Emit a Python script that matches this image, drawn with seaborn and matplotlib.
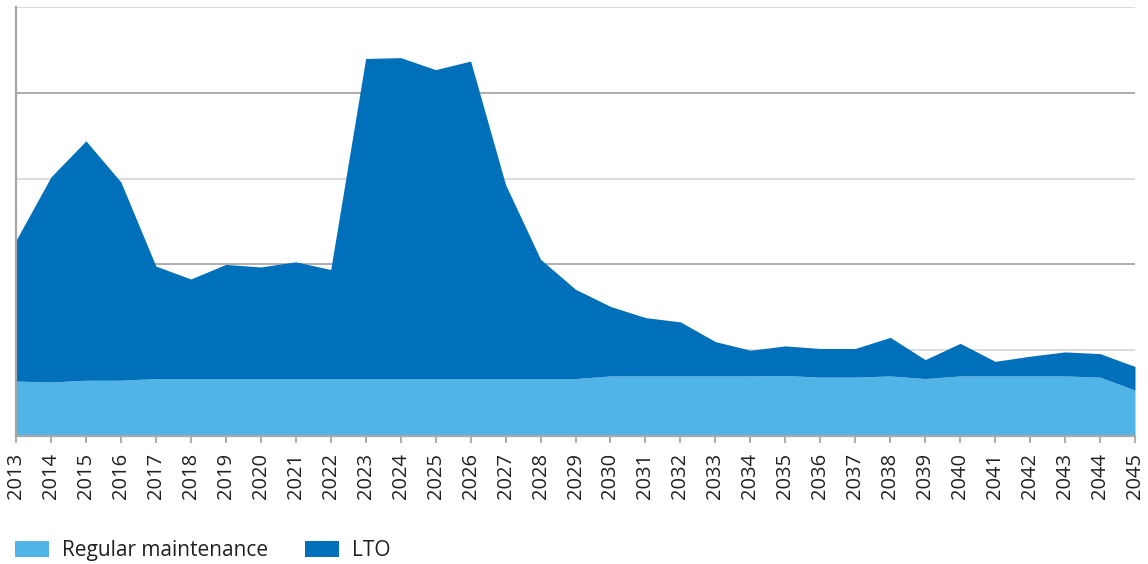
import matplotlib
matplotlib.use("Agg")
import matplotlib.pyplot as plt
import seaborn as sns
import numpy as np
import pandas as pd

years = list(range(2013, 2046))

# Regular maintenance (bottom layer)
regular = [6.4, 6.3, 6.5, 6.5, 6.7, 6.7, 6.7, 6.7, 6.7, 6.7, 6.7,
           6.7, 6.7, 6.7, 6.7, 6.7, 6.7, 7.0, 7.0, 7.0, 7.0, 7.0,
           7.05, 6.86, 6.86, 7.0, 6.7, 7.0, 7.0, 7.0, 7.0, 6.86, 5.35]

# Total (regular maintenance + LTO)
total = [22.8, 30.2, 34.4, 29.6, 19.8, 18.3, 20.0, 19.7, 20.3, 19.4, 44.0,
         44.1, 42.7, 43.7, 29.3, 20.6, 17.1, 15.1, 13.8, 13.3, 11.0, 10.0,
         10.5, 10.2, 10.2, 11.5, 8.9, 10.8, 8.7, 9.3, 9.8, 9.6, 8.1]

lto = [t - r for t, r in zip(total, regular)]

series_names = ["Regular maintenance", "LTO"]
colors = ["#50b4e6", "#0070ba"]

df = pd.DataFrame({"year": years, series_names[0]: regular, series_names[1]: lto})

sns.set_theme(style="white")
plt.rcParams["font.family"] = ["Open Sans", "DejaVu Sans"]

fig = plt.figure(figsize=(11.48, 5.64), dpi=100)
ax = fig.add_axes([16 / 1148, 128 / 564, 1119 / 1148, 429 / 564])

ax.stackplot(df["year"], df[series_names[0]], df[series_names[1]],
             colors=colors, labels=series_names, linewidth=0, zorder=2)

ax.set_xlim(2013, 2045)
ax.set_ylim(0, 50)

# Horizontal grid, alternating darker and lighter lines
ax.set_yticks([10, 20, 30, 40, 50])
ax.yaxis.grid(True, linewidth=1.3, zorder=0)
for val, gl in zip([10, 20, 30, 40, 50], ax.get_ygridlines()):
    gl.set_color("#a7a7aa" if val in (20, 40) else "#d9d9db")
ax.set_axisbelow(True)
ax.tick_params(axis="y", left=False, labelleft=False)

ax.set_xticks(years)
ax.set_xticklabels([str(y) for y in years], rotation=90, fontsize=14.5, color="#231f20")
ax.tick_params(axis="x", bottom=True, length=5, width=1.3, color="#a7a7aa", pad=7)

for side in ("top", "right"):
    ax.spines[side].set_visible(False)
for side in ("left", "bottom"):
    ax.spines[side].set_color("#a7a7aa")
    ax.spines[side].set_linewidth(1.6)
ax.spines["bottom"].set_zorder(5)

ax.set_xlabel("")
ax.set_ylabel("")

handles, labels = ax.get_legend_handles_labels()
fig.legend(handles, labels, loc="lower left", bbox_to_anchor=(-0.003, -0.028),
           ncol=2, frameon=False, fontsize=15, handlelength=1.63,
           handleheight=0.78, handletextpad=0.6, columnspacing=1.8,
           labelcolor="#231f20")

fig.savefig("out.png", dpi=100)
